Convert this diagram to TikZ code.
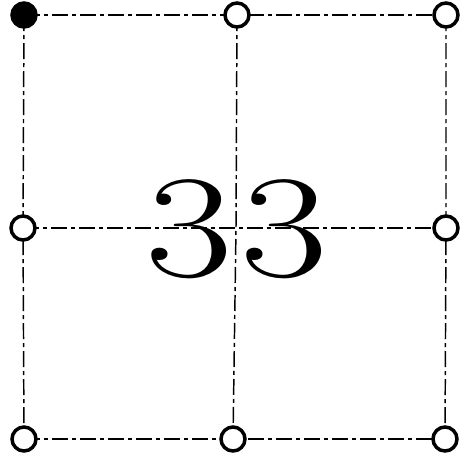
\documentclass[tikz,border=0pt]{standalone}
\usepackage{fontspec}
\usepackage{graphicx}
\begin{document}
\begin{tikzpicture}[x=0.75pt,y=-0.75pt,
  gridline/.style={line width=1.1pt, dash pattern=on 12pt off 3pt on 3pt off 3pt},
  opendot/.style={circle, draw, line width=2.6pt, fill=white, minimum size=18pt, inner sep=0pt},
  fulldot/.style={circle, draw, line width=2.6pt, fill=black, minimum size=18pt, inner sep=0pt}]
\useasboundingbox (0,0) rectangle (460,454);
\coordinate (c11) at (24,15);
\coordinate (c12) at (237,15);
\coordinate (c13) at (446,15);
\coordinate (c21) at (23,228);
\coordinate (c22) at (236,228);
\coordinate (c23) at (446,228);
\coordinate (c31) at (24,439);
\coordinate (c32) at (233,439);
\coordinate (c33) at (445,439);
\draw[gridline] (c11) -- (c12) -- (c13);
\draw[gridline] (c21) -- (c22) -- (c23);
\draw[gridline] (c31) -- (c32) -- (c33);
\draw[gridline] (c11) -- (c21) -- (c31);
\draw[gridline] (c12) -- (c22) -- (c32);
\draw[gridline] (c13) -- (c23) -- (c33);
\node (txt) at (237,229) {\scalebox{1.3}[1]{\fontsize{110}{110}\selectfont 3\hspace{0.04em}3}};
\node[fulldot] (n11) at (c11) {};
\node[opendot] (n12) at (c12) {};
\node[opendot] (n13) at (c13) {};
\node[opendot] (n21) at (c21) {};
\node[opendot] (n23) at (c23) {};
\node[opendot] (n31) at (c31) {};
\node[opendot] (n32) at (c32) {};
\node[opendot] (n33) at (c33) {};
\end{tikzpicture}
\end{document}
